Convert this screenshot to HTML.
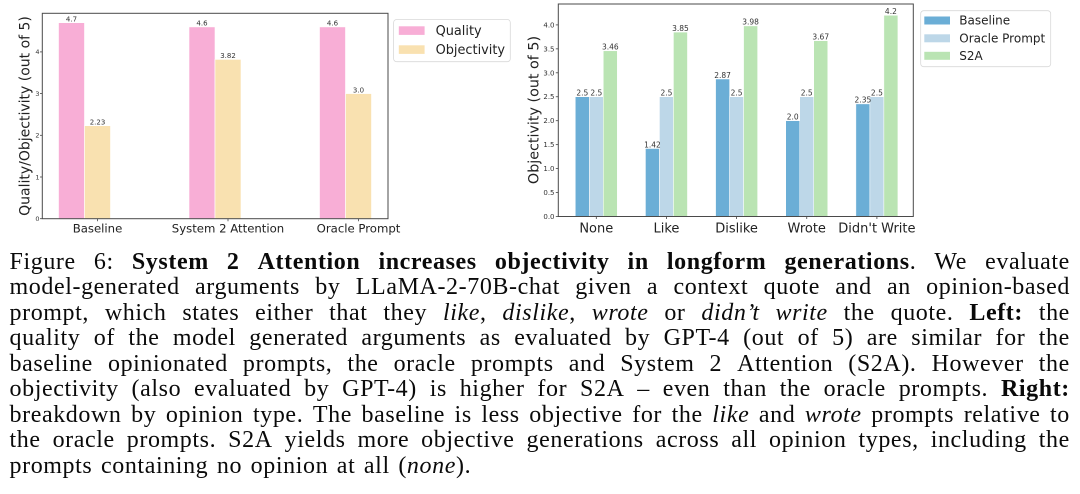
<!DOCTYPE html>
<html>
<head>
<meta charset="utf-8">
<style>
  html,body{margin:0;padding:0;background:#fff;}
  body{width:1080px;height:494px;position:relative;overflow:hidden;}
  svg{position:absolute;left:0;top:0;}
  .cap{position:absolute;left:9.5px;top:249.6px;width:1060.5px;font-family:"Liberation Serif",serif;font-size:24px;letter-spacing:0.6px;line-height:25.5px;color:#0a0a0a;}
  .l{display:flex;justify-content:space-between;align-items:baseline;height:25.5px;white-space:nowrap;}
  .l span,.l b,.l i{white-space:nowrap;}
  .last{height:25.5px;white-space:nowrap;word-spacing:2px;}
  b{font-weight:bold;}
</style>
</head>
<body>
<svg width="1080" height="245" viewBox="0 0 1080 245" xmlns="http://www.w3.org/2000/svg" font-family="DejaVu Sans, sans-serif">
  <!-- LEFT CHART -->
  <g stroke="#fff" stroke-width="0.6">
    <rect x="58.5" y="22.7" width="26" height="196.0" fill="#f8aed6"/>
    <rect x="84.5" y="125.7" width="26" height="93.0" fill="#f9e1b0"/>
    <rect x="189" y="26.9" width="26" height="191.8" fill="#f8aed6"/>
    <rect x="215" y="59.4" width="26" height="159.3" fill="#f9e1b0"/>
    <rect x="319.5" y="26.9" width="26" height="191.8" fill="#f8aed6"/>
    <rect x="345.5" y="93.6" width="26" height="125.1" fill="#f9e1b0"/>
  </g>
  <rect x="42.3" y="13.3" width="345.7" height="205.4" fill="none" stroke="#4a4a4a" stroke-width="1"/>
  <g fill="#333" font-size="7" text-anchor="middle">
    <text x="71.5" y="21.5">4.7</text>
    <text x="97.5" y="124.5">2.23</text>
    <text x="202" y="25.7">4.6</text>
    <text x="228" y="58.2">3.82</text>
    <text x="332.5" y="25.7">4.6</text>
    <text x="358.5" y="92.4">3.0</text>
  </g>
  <g stroke="#444" stroke-width="0.8">
    <line x1="40" y1="218.7" x2="42.3" y2="218.7"/>
    <line x1="40" y1="177" x2="42.3" y2="177"/>
    <line x1="40" y1="135.3" x2="42.3" y2="135.3"/>
    <line x1="40" y1="93.6" x2="42.3" y2="93.6"/>
    <line x1="40" y1="51.9" x2="42.3" y2="51.9"/>
    <line x1="97.5" y1="218.7" x2="97.5" y2="221.2"/>
    <line x1="228" y1="218.7" x2="228" y2="221.2"/>
    <line x1="358.5" y1="218.7" x2="358.5" y2="221.2"/>
  </g>
  <g fill="#333" font-size="6.5" text-anchor="end">
    <text x="39.5" y="221">0</text>
    <text x="39.5" y="179.3">1</text>
    <text x="39.5" y="137.6">2</text>
    <text x="39.5" y="95.9">3</text>
    <text x="39.5" y="54.2">4</text>
  </g>
  <g fill="#222" font-size="11.7" text-anchor="middle">
    <text x="97.5" y="232.5">Baseline</text>
    <text x="228" y="232.5">System 2 Attention</text>
    <text x="358.5" y="232.5">Oracle Prompt</text>
  </g>
  <text transform="translate(29.7,116) rotate(-90)" font-size="14" fill="#222" text-anchor="middle">Quality/Objectivity (out of 5)</text>
  <!-- left legend -->
  <rect x="393.6" y="19.5" width="116.7" height="42.2" rx="3" fill="#fff" stroke="#d9d9d9" stroke-width="0.8"/>
  <rect x="398.8" y="26.3" width="25.8" height="8.6" fill="#f8aed6"/>
  <rect x="398.8" y="45.3" width="25.8" height="8.6" fill="#f9e1b0"/>
  <g fill="#222" font-size="12.9">
    <text x="435.6" y="34.9">Quality</text>
    <text x="435.6" y="53.9">Objectivity</text>
  </g>

  <!-- RIGHT CHART -->
  <g stroke="#fff" stroke-width="0.5">
    <rect x="575.3" y="96.75" width="14" height="119.75" fill="#6baed6"/>
    <rect x="589.3" y="96.75" width="14" height="119.75" fill="#bdd7e8"/>
    <rect x="603.3" y="50.8" width="14" height="165.7" fill="#bae4b3"/>

    <rect x="645.45" y="148.5" width="14" height="68.0" fill="#6baed6"/>
    <rect x="659.45" y="96.75" width="14" height="119.75" fill="#bdd7e8"/>
    <rect x="673.45" y="32.1" width="14" height="184.4" fill="#bae4b3"/>

    <rect x="715.6" y="79.0" width="14" height="137.5" fill="#6baed6"/>
    <rect x="729.6" y="96.75" width="14" height="119.75" fill="#bdd7e8"/>
    <rect x="743.6" y="25.9" width="14" height="190.6" fill="#bae4b3"/>

    <rect x="785.75" y="120.7" width="14" height="95.8" fill="#6baed6"/>
    <rect x="799.75" y="96.75" width="14" height="119.75" fill="#bdd7e8"/>
    <rect x="813.75" y="40.7" width="14" height="175.8" fill="#bae4b3"/>

    <rect x="855.9" y="103.9" width="14" height="112.6" fill="#6baed6"/>
    <rect x="869.9" y="96.75" width="14" height="119.75" fill="#bdd7e8"/>
    <rect x="883.9" y="15.3" width="14" height="201.2" fill="#bae4b3"/>
  </g>
  <rect x="558.3" y="4" width="355" height="212.5" fill="none" stroke="#4a4a4a" stroke-width="1"/>
  <g fill="#333" font-size="7.5" text-anchor="middle">
    <text x="582.3" y="95.5">2.5</text>
    <text x="596.3" y="95.5">2.5</text>
    <text x="610.3" y="49.6">3.46</text>
    <text x="652.45" y="147.3">1.42</text>
    <text x="666.45" y="95.5">2.5</text>
    <text x="680.45" y="30.9">3.85</text>
    <text x="722.6" y="77.8">2.87</text>
    <text x="736.6" y="95.5">2.5</text>
    <text x="750.6" y="24.7">3.98</text>
    <text x="792.75" y="119.5">2.0</text>
    <text x="806.75" y="95.5">2.5</text>
    <text x="820.75" y="39.5">3.67</text>
    <text x="862.9" y="102.7">2.35</text>
    <text x="876.9" y="95.5">2.5</text>
    <text x="890.9" y="14.1">4.2</text>
  </g>
  <g stroke="#444" stroke-width="0.8">
    <line x1="555.8" y1="216.5" x2="558.3" y2="216.5"/>
    <line x1="555.8" y1="192.55" x2="558.3" y2="192.55"/>
    <line x1="555.8" y1="168.6" x2="558.3" y2="168.6"/>
    <line x1="555.8" y1="144.65" x2="558.3" y2="144.65"/>
    <line x1="555.8" y1="120.7" x2="558.3" y2="120.7"/>
    <line x1="555.8" y1="96.75" x2="558.3" y2="96.75"/>
    <line x1="555.8" y1="72.8" x2="558.3" y2="72.8"/>
    <line x1="555.8" y1="48.85" x2="558.3" y2="48.85"/>
    <line x1="555.8" y1="24.9" x2="558.3" y2="24.9"/>
    <line x1="596.3" y1="216.5" x2="596.3" y2="219"/>
    <line x1="666.45" y1="216.5" x2="666.45" y2="219"/>
    <line x1="736.6" y1="216.5" x2="736.6" y2="219"/>
    <line x1="806.75" y1="216.5" x2="806.75" y2="219"/>
    <line x1="876.9" y1="216.5" x2="876.9" y2="219"/>
  </g>
  <g fill="#333" font-size="7" text-anchor="end">
    <text x="554.5" y="219">0.0</text>
    <text x="554.5" y="195">0.5</text>
    <text x="554.5" y="171.1">1.0</text>
    <text x="554.5" y="147.1">1.5</text>
    <text x="554.5" y="123.2">2.0</text>
    <text x="554.5" y="99.2">2.5</text>
    <text x="554.5" y="75.3">3.0</text>
    <text x="554.5" y="51.3">3.5</text>
    <text x="554.5" y="27.4">4.0</text>
  </g>
  <g fill="#222" font-size="13" text-anchor="middle">
    <text x="596.3" y="232.4">None</text>
    <text x="666.45" y="232.4">Like</text>
    <text x="736.6" y="232.4">Dislike</text>
    <text x="806.75" y="232.4">Wrote</text>
    <text x="876.9" y="232.4">Didn't Write</text>
  </g>
  <text transform="translate(538.3,110) rotate(-90)" font-size="14.3" fill="#222" text-anchor="middle">Objectivity (out of 5)</text>
  <!-- right legend -->
  <rect x="920.7" y="10.7" width="130" height="56" rx="3" fill="#fff" stroke="#d9d9d9" stroke-width="0.8"/>
  <rect x="924.3" y="16.5" width="25.7" height="8" fill="#6baed6"/>
  <rect x="924.3" y="34.3" width="25.7" height="8" fill="#bdd7e8"/>
  <rect x="924.3" y="51.8" width="25.7" height="8" fill="#bae4b3"/>
  <g fill="#222" font-size="12">
    <text x="959.3" y="24.7">Baseline</text>
    <text x="959.3" y="42.5">Oracle Prompt</text>
    <text x="959.3" y="60">S2A</text>
  </g>
</svg>

<div class="cap">
  <div class="l"><span>Figure</span><span>6:</span><b>System</b><b>2</b><b>Attention</b><b>increases</b><b>objectivity</b><b>in</b><b>longform</b><span><b>generations</b>.</span><span>We</span><span>evaluate</span></div>
  <div class="l"><span>model-generated</span><span>arguments</span><span>by</span><span>LLaMA-2-70B-chat</span><span>given</span><span>a</span><span>context</span><span>quote</span><span>and</span><span>an</span><span>opinion-based</span></div>
  <div class="l"><span>prompt,</span><span>which</span><span>states</span><span>either</span><span>that</span><span>they</span><span><i>like</i>,</span><span><i>dislike</i>,</span><i>wrote</i><span>or</span><i>didn’t</i><i>write</i><span>the</span><span>quote.</span><b>Left:</b><span>the</span></div>
  <div class="l"><span>quality</span><span>of</span><span>the</span><span>model</span><span>generated</span><span>arguments</span><span>as</span><span>evaluated</span><span>by</span><span>GPT-4</span><span>(out</span><span>of</span><span>5)</span><span>are</span><span>similar</span><span>for</span><span>the</span></div>
  <div class="l"><span>baseline</span><span>opinionated</span><span>prompts,</span><span>the</span><span>oracle</span><span>prompts</span><span>and</span><span>System</span><span>2</span><span>Attention</span><span>(S2A).</span><span>However</span><span>the</span></div>
  <div class="l"><span>objectivity</span><span>(also</span><span>evaluated</span><span>by</span><span>GPT-4)</span><span>is</span><span>higher</span><span>for</span><span>S2A</span><span>–</span><span>even</span><span>than</span><span>the</span><span>oracle</span><span>prompts.</span><b>Right:</b></div>
  <div class="l"><span>breakdown</span><span>by</span><span>opinion</span><span>type.</span><span>The</span><span>baseline</span><span>is</span><span>less</span><span>objective</span><span>for</span><span>the</span><i>like</i><span>and</span><i>wrote</i><span>prompts</span><span>relative</span><span>to</span></div>
  <div class="l"><span>the</span><span>oracle</span><span>prompts.</span><span>S2A</span><span>yields</span><span>more</span><span>objective</span><span>generations</span><span>across</span><span>all</span><span>opinion</span><span>types,</span><span>including</span><span>the</span></div>
  <div class="last">prompts containing no opinion at all (<i>none</i>).</div>
</div>
</body>
</html>
